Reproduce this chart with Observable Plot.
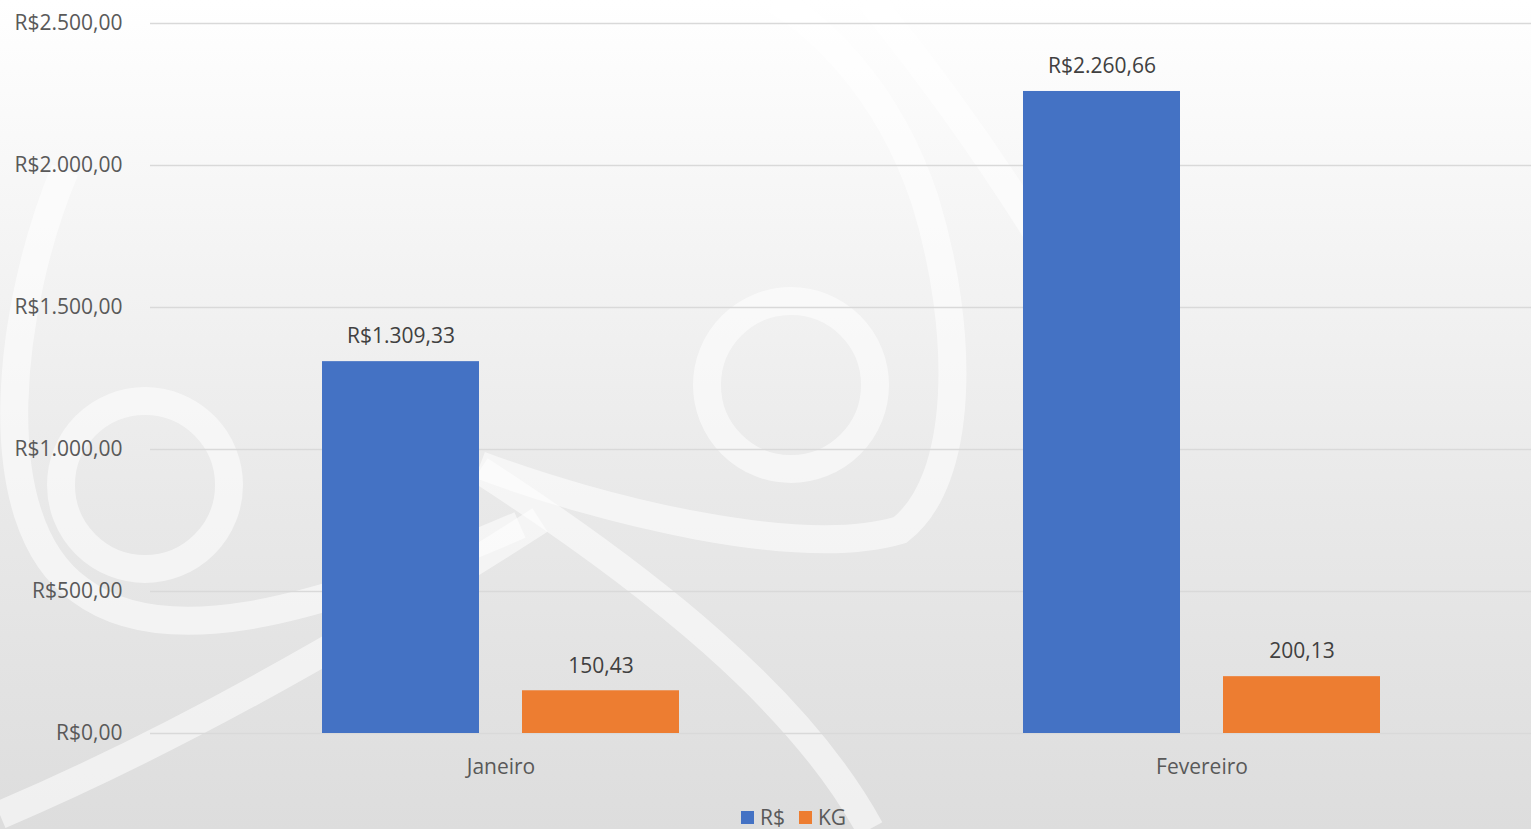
<!DOCTYPE html>
<html>
<head>
<meta charset="utf-8">
<script src="https://cdn.jsdelivr.net/npm/d3@7"></script>
<script src="https://cdn.jsdelivr.net/npm/@observablehq/plot@0.6"></script>
<style>
  html, body { margin: 0; padding: 0; width: 1531px; height: 829px; overflow: hidden; }
  body {
    background: linear-gradient(to bottom, #ffffff 0%, #f4f4f4 30%, #e9e9e9 60%, #dddddd 100%);
    font-family: "Open Sans", "Noto Sans", sans-serif;
    position: relative;
  }
  #deco { position: absolute; left: 0; top: 0; }
  #chart { position: absolute; left: 0; top: 0; }
  #legend {
    position: absolute; top: 806px; left: 741px;
    display: flex; align-items: center; gap: 6px;
    font-size: 21px; color: #595959; line-height: 22px;
  }
  #legend .sw { width: 13px; height: 13px; display: inline-block; }
  #legend .item { display: flex; align-items: center; gap: 6px; margin-right: 8px; }
</style>
</head>
<body>
<svg id="deco" width="1531" height="829" fill="none" stroke="#ffffff" stroke-opacity="0.55" stroke-width="28">
  <circle cx="145" cy="485" r="84"/>
  <circle cx="791" cy="385" r="84"/>
  <path d="M 65,170 C 10,300 -20,520 80,590 C 160,650 300,620 520,525"/>
  <path d="M 0,815 C 200,730 400,610 540,520"/>
  <path d="M 480,465 C 600,510 800,560 900,530 C 965,480 965,330 925,200 C 885,80 810,20 775,0"/>
  <path d="M 480,470 C 650,580 800,700 870,829"/>
  <path d="M 870,0 C 1000,160 1080,300 1120,380"/>
</svg>
<div id="chart"></div>
<div id="legend"></div>
<script>
const months = ["Janeiro", "Fevereiro"];
const seriesNames = ["R$", "KG"];
const valuesRS = [1309.33, 2260.66];
const valuesKG = [150.43, 200.13];
const yTicks = [0, 500, 1000, 1500, 2000, 2500];
const colors = ["#4472C4", "#ED7D31"];

const locale = d3.formatLocale({decimal: ",", thousands: ".", grouping: [3], currency: ["R$", ""]});
const fmtMoney = locale.format("$,.2f");
const fmtNum = locale.format(",.2f");

const data = [];
months.forEach((m, i) => {
  data.push({month: m, series: "R$", value: valuesRS[i], label: fmtMoney(valuesRS[i])});
  data.push({month: m, series: "KG", value: valuesKG[i], label: fmtNum(valuesKG[i])});
});

const chart = Plot.plot({
  width: 1552,
  height: 805,
  marginLeft: 150,
  marginRight: 0,
  marginTop: 23,
  marginBottom: 72,
  style: {background: "transparent", maxWidth: "none", fontSize: "21px", fontFamily: "'Open Sans', 'Noto Sans', sans-serif", color: "#595959", overflow: "visible"},
  fx: {domain: months, padding: 0, label: null, tickSize: 0, tickPadding: 26},
  x: {domain: seriesNames, paddingInner: 0.215, paddingOuter: 0.86, axis: null},
  y: {domain: [0, 2500], ticks: yTicks, tickFormat: fmtMoney, tickSize: 0, tickPadding: 28, label: null},
  color: {domain: seriesNames, range: colors},
  marks: [
    Plot.gridY(yTicks, {stroke: "#d9d9d9", strokeOpacity: 1, strokeWidth: 1.5}),
    Plot.barY(data, {fx: "month", x: "series", y: "value", fill: "series"}),
    Plot.text(data, {fx: "month", x: "series", y: "value", text: "label", dy: -25, lineAnchor: "middle", fill: "#404040", fontSize: 21})
  ]
});
document.getElementById("chart").appendChild(chart);

const legend = document.getElementById("legend");
seriesNames.forEach((s, i) => {
  const item = document.createElement("span");
  item.className = "item";
  const sw = document.createElement("span");
  sw.className = "sw";
  sw.style.background = colors[i];
  const t = document.createElement("span");
  t.textContent = s;
  item.appendChild(sw);
  item.appendChild(t);
  legend.appendChild(item);
});
</script>
</body>
</html>
